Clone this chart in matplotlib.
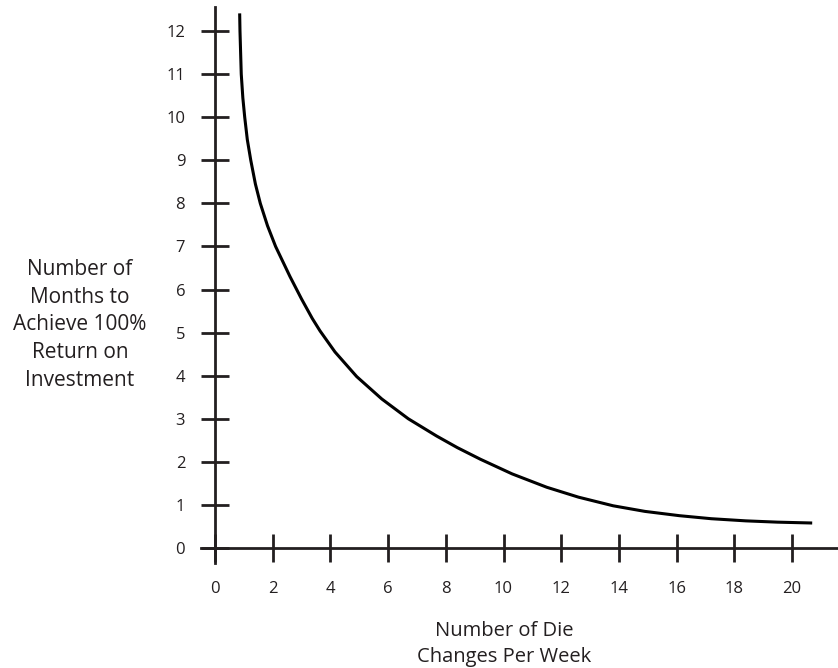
import matplotlib.pyplot as plt

# die changes per week vs months to reach 100% ROI
changes = [0.855, 0.866, 0.91, 0.965, 1.03, 1.12, 1.24, 1.40, 1.57, 1.82, 2.10,
           2.60, 3.00, 3.37, 3.64, 4.16, 4.91, 5.78, 6.70, 7.68, 8.40, 9.20,
           10.3, 11.5, 12.6, 13.8, 14.9, 16.1, 17.2, 18.4, 19.5, 20.7]
months = [12.41, 12.00, 11.00, 10.45, 10.00, 9.48, 9.00, 8.45, 8.00, 7.48, 7.00,
          6.30, 5.78, 5.33, 5.04, 4.55, 3.98, 3.46, 3.00, 2.60, 2.33, 2.06,
          1.72, 1.41, 1.18, 0.98, 0.85, 0.75, 0.68, 0.63, 0.60, 0.58]

xticks = list(range(0, 21, 2))
yticks = list(range(0, 13))

ink = "#231f20"
plt.rcParams['font.family'] = ['Open Sans', 'DejaVu Sans']

W, H = 838, 668
fig = plt.figure(figsize=(W / 100, H / 100), dpi=100)

# axes box in pixels, and where data 0 sits
left_px, right_px, top_px, bottom_px = 190, 838, 5, 580
x0_px, x_scale = 215, 28.85
y0_px, y_scale = 548, 43.08
ax = fig.add_axes([left_px / W, 1 - bottom_px / H,
                   (right_px - left_px) / W, (bottom_px - top_px) / H])
ax.set_xlim((left_px - x0_px) / x_scale, (right_px - x0_px) / x_scale)
ax.set_ylim((y0_px - bottom_px) / y_scale, (y0_px - top_px) / y_scale)

ax.plot(changes, months, color="black", linewidth=2.2,
        solid_capstyle="butt", solid_joinstyle="round")

for s in ["top", "right"]:
    ax.spines[s].set_visible(False)
ax.spines["left"].set_position(("data", 0))
ax.spines["bottom"].set_position(("data", 0))
ax.spines["left"].set_bounds((y0_px - 563) / y_scale, (y0_px - 7) / y_scale)
ax.spines["bottom"].set_bounds((201 - x0_px) / x_scale, (right_px - x0_px) / x_scale)
for s in ["left", "bottom"]:
    ax.spines[s].set_color(ink)
    ax.spines[s].set_linewidth(2)

ax.set_xticks(xticks)
ax.set_yticks(yticks)
ax.tick_params(direction="inout", length=20, width=2, color=ink,
               labelcolor=ink, labelsize=12)
ax.tick_params(axis="y", pad=11.5)
ax.tick_params(axis="x", pad=14)

fig.text(80 / W, 1 - 325 / H,
         "Number of\nMonths to\nAchieve 100%\nReturn on\nInvestment",
         ha="center", va="center", multialignment="center",
         fontsize=15, color=ink, linespacing=1.42)
fig.text(504 / W, 1 - 644 / H, "Number of Die\nChanges Per Week",
         ha="center", va="center", multialignment="center",
         fontsize=14.5, color=ink, linespacing=1.42)

fig.savefig("out.png", dpi=100)
